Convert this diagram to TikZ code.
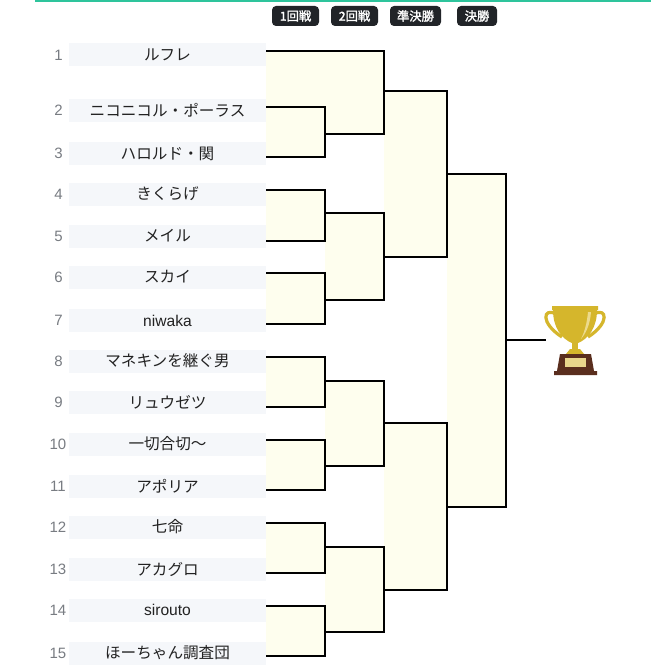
\documentclass[tikz,border=0pt]{standalone}
\usepackage{fontspec}
\setmainfont{Liberation Sans}
\newfontfamily\jp{Noto Sans CJK JP}
\newfontfamily\jpb{Noto Sans CJK JP}[FakeBold=1.8]
\definecolor{boxbg}{HTML}{F5F7FA}
\definecolor{matchbg}{HTML}{FEFEEE}
\definecolor{txt}{HTML}{222222}
\definecolor{numgray}{HTML}{787C82}
\definecolor{badgebg}{HTML}{212428}
\definecolor{topline}{HTML}{2EC49C}
\definecolor{gold}{HTML}{D5B62C}
\definecolor{goldlight}{HTML}{ECDA8C}
\definecolor{tbrown}{HTML}{5A2E1E}
\definecolor{plaque}{HTML}{E8D68C}
\begin{document}
\begin{tikzpicture}[x=1pt,y=-1pt,
  namebox/.style={fill=boxbg, minimum width=197pt, minimum height=23pt, inner sep=0pt, text=txt, font=\fontsize{15.6}{18}\selectfont},
  numlbl/.style={text=numgray, inner sep=0pt, font=\fontsize{15}{18}\selectfont},
  badge/.style={fill=badgebg, rounded corners=4pt, text=white, minimum height=20pt, inner sep=0pt, font=\jpb\fontsize{12.3}{14}\selectfont},
  bline/.style={line width=2.3pt, line join=miter, draw=black},
  mfill/.style={fill=matchbg}]
\useasboundingbox (0,0) rectangle (651,666);
\fill[white] (0,0) rectangle (651,666);
% top line
\draw[topline, line width=1.6pt] (35,0.8) -- (651,0.8);
% badges
\node[badge, minimum width=47pt] (h1) at (295.5,16) {1回戦};
\node[badge, minimum width=47pt] (h2) at (354.5,16) {2回戦};
\node[badge, minimum width=51pt] (h3) at (415.5,16) {準決勝};
\node[badge, minimum width=40pt] (h4) at (477,16) {決勝};
% names
\node[namebox] (p1) at (167.5,55) {\jp\raisebox{-0.8pt}{ルフレ}};
\node[namebox] (p2) at (167.5,110.5) {\jp\raisebox{-0.8pt}{ニコニコル・ポーラス}};
\node[namebox] (p3) at (167.5,153.5) {\jp\raisebox{-0.8pt}{ハロルド・関}};
\node[namebox] (p4) at (167.5,194) {\jp\raisebox{-0.8pt}{きくらげ}};
\node[namebox] (p5) at (167.5,236) {\jp\raisebox{-0.8pt}{メイル}};
\node[namebox] (p6) at (167.5,277) {\jp\raisebox{-0.8pt}{スカイ}};
\node[namebox] (p7) at (167.5,320.5) {niwaka};
\node[namebox] (p8) at (167.5,361) {\jp\raisebox{-0.8pt}{マネキンを継ぐ男}};
\node[namebox] (p9) at (167.5,402.5) {\jp\raisebox{-0.8pt}{リュウゼツ}};
\node[namebox] (p10) at (167.5,444) {\jp\raisebox{-0.8pt}{一切合切〜}};
\node[namebox] (p11) at (167.5,486.5) {\jp\raisebox{-0.8pt}{アポリア}};
\node[namebox] (p12) at (167.5,527) {\jp\raisebox{-0.8pt}{七命}};
\node[namebox] (p13) at (167.5,569) {\jp\raisebox{-0.8pt}{アカグロ}};
\node[namebox] (p14) at (167.5,610) {sirouto};
\node[namebox] (p15) at (167.5,653) {\jp\raisebox{-0.8pt}{ほーちゃん調査団}};
% numbers
\node[numlbl] (n1) at (58.5,55) {1};
\node[numlbl] (n2) at (58.5,110.5) {2};
\node[numlbl] (n3) at (58.5,153.5) {3};
\node[numlbl] (n4) at (58.5,194) {4};
\node[numlbl] (n5) at (58.5,236) {5};
\node[numlbl] (n6) at (58.5,277) {6};
\node[numlbl] (n7) at (58.5,320.5) {7};
\node[numlbl] (n8) at (58.5,361) {8};
\node[numlbl] (n9) at (58.5,402.5) {9};
\node[numlbl] (n10) at (58,444) {10};
\node[numlbl] (n11) at (58,486.5) {11};
\node[numlbl] (n12) at (58,527) {12};
\node[numlbl] (n13) at (58,569) {13};
\node[numlbl] (n14) at (58,610) {14};
\node[numlbl] (n15) at (58,653) {15};
% line starts
\coordinate (s1) at (266,51);
\coordinate (s2) at (266,107);  \coordinate (s3) at (266,157);
\coordinate (s4) at (266,190);  \coordinate (s5) at (266,241);
\coordinate (s6) at (266,273);  \coordinate (s7) at (266,324);
\coordinate (s8) at (266,357);  \coordinate (s9) at (266,407);
\coordinate (s10) at (266,440); \coordinate (s11) at (266,490);
\coordinate (s12) at (266,523); \coordinate (s13) at (266,573);
\coordinate (s14) at (266,606); \coordinate (s15) at (266,656);
% round outputs
\coordinate (a1) at (325,134); \coordinate (a2) at (325,213);
\coordinate (a3) at (325,300); \coordinate (a4) at (325,381);
\coordinate (a5) at (325,466); \coordinate (a6) at (325,547);
\coordinate (a7) at (325,632);
\coordinate (b1) at (384,91);    \coordinate (b2) at (384,257);
\coordinate (b3) at (384,423);   \coordinate (b4) at (384,590);
\coordinate (c1) at (447,174); \coordinate (c2) at (447,507);
\coordinate (d1) at (506,340);
\coordinate (t) at (545.5,340);
% fills
\fill[mfill] (s2) rectangle (a1 |- s3);
\fill[mfill] (s4) rectangle (a2 |- s5);
\fill[mfill] (s6) rectangle (a3 |- s7);
\fill[mfill] (s8) rectangle (a4 |- s9);
\fill[mfill] (s10) rectangle (a5 |- s11);
\fill[mfill] (s12) rectangle (a6 |- s13);
\fill[mfill] (s14) rectangle (a7 |- s15);
\fill[mfill] (s1) rectangle (b1 |- a1);
\fill[mfill] (a2) rectangle (b2 |- a3);
\fill[mfill] (a4) rectangle (b3 |- a5);
\fill[mfill] (a6) rectangle (b4 |- a7);
\fill[mfill] (b1) rectangle (c1 |- b2);
\fill[mfill] (b3) rectangle (c2 |- b4);
\fill[mfill] (c1) rectangle (d1 |- c2);
% round 1
\draw[bline] (s2) -| (a1) |- (s3);
\draw[bline] (s4) -| (a2) |- (s5);
\draw[bline] (s6) -| (a3) |- (s7);
\draw[bline] (s8) -| (a4) |- (s9);
\draw[bline] (s10) -| (a5) |- (s11);
\draw[bline] (s12) -| (a6) |- (s13);
\draw[bline] (s14) -| (a7) |- (s15);
% round 2
\draw[bline] (s1) -| (b1) |- (a1);
\draw[bline] (a2) -| (b2) |- (a3);
\draw[bline] (a4) -| (b3) |- (a5);
\draw[bline] (a6) -| (b4) |- (a7);
% semi
\draw[bline] (b1) -| (c1) |- (b2);
\draw[bline] (b3) -| (c2) |- (b4);
% final
\draw[bline] (c1) -| (d1) |- (c2);
\draw[bline] (d1) -- (t);
% trophy
\draw[gold, line width=3.2pt] (556,314) .. controls (543,307) and (540,323) .. (562,337);
\draw[gold, line width=3.2pt] (594,314) .. controls (607,307) and (610,323) .. (588,337);
\fill[gold] (552,306) -- (598,306) -- (598,310) -- (597,310) .. controls (597,328) and (588,339) .. (578,343) -- (572,343) .. controls (562,339) and (553,328) .. (553,310) -- (552,310) -- cycle;
\fill[goldlight] (591,312) .. controls (590,325) and (586,333) .. (581,339) .. controls (585,331) and (587,322) .. (588,312) -- cycle;
\fill[gold] (572,342) rectangle (578,351);
\fill[gold] (566,354) -- (570,349) -- (580,349) -- (584,354) -- cycle;
\fill[tbrown] (560,354) -- (591,354) -- (594,371) -- (597,371) -- (597,375) -- (554,375) -- (554,371) -- (557,371) -- cycle;
\fill[plaque] (565,358) rectangle (586,367);
\end{tikzpicture}
\end{document}
